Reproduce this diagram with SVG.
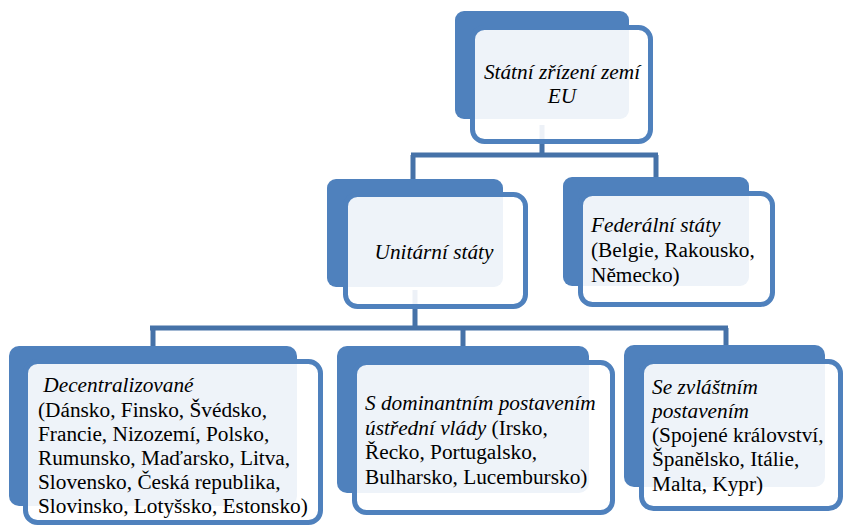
<svg xmlns="http://www.w3.org/2000/svg" width="845" height="526" viewBox="0 0 845 526">
<style>
.back{fill:#4F81BD;}
.front{fill:#FFFFFF;fill-opacity:0.9;stroke:#4F81BD;stroke-width:5;}
.conn{fill:none;stroke:#4672A8;stroke-width:5;}
text{font-family:"Liberation Serif","Times New Roman",serif;font-size:21.3px;fill:#000;}
.it{font-style:italic;}
</style>
<rect width="845" height="526" fill="#FFFFFF"/>
<g id="connectors">
<path class="conn" d="M542,125 V155 M411,155 H658 M413,155 V180 M656,155 V178"/>
<path class="conn" d="M415,290 V328 M150,328 H728 M153,328 V347 M463,328 V347 M726,328 V346"/>
</g>
<g id="node-root">
<rect class="back" x="455" y="11" width="174" height="108" rx="9"/>
<rect class="front" x="472.5" y="27.5" width="178" height="114" rx="12"/>
<text class="it" x="562" y="79" text-anchor="middle">Státní zřízení zemí</text>
<text class="it" x="562" y="103" text-anchor="middle">EU</text>
</g>
<g id="node-unitarni">
<rect class="back" x="327" y="179" width="176" height="108" rx="9"/>
<rect class="front" x="345.5" y="194.5" width="180" height="112" rx="12"/>
<text class="it" x="434" y="259" text-anchor="middle">Unitární státy</text>
</g>
<g id="node-federalni">
<rect class="back" x="563" y="177" width="186" height="109" rx="9"/>
<rect class="front" x="580.5" y="193.5" width="192" height="111" rx="12"/>
<text x="591" y="232"><tspan class="it">Federální státy</tspan></text>
<text x="591" y="257">(Belgie, Rakousko,</text>
<text x="591" y="282">Německo)</text>
</g>
<g id="node-decentralizovane">
<rect class="back" x="9" y="346" width="288" height="160" rx="10"/>
<rect class="front" x="25.5" y="361.5" width="295" height="161" rx="12"/>
<text class="it" x="38" y="392" xml:space="preserve"> Decentralizované</text>
<text x="38" y="417">(Dánsko, Finsko, Švédsko,</text>
<text x="38" y="441">Francie, Nizozemí, Polsko,</text>
<text x="38" y="465">Rumunsko, Maďarsko, Litva,</text>
<text x="38" y="489">Slovensko, Česká republika,</text>
<text x="38" y="513">Slovinsko, Lotyšsko, Estonsko)</text>
</g>
<g id="node-dominantni">
<rect class="back" x="337" y="346" width="252" height="147" rx="10"/>
<rect class="front" x="354.5" y="362.5" width="258" height="150" rx="12"/>
<text class="it" x="365" y="410">S dominantním postavením</text>
<text x="365" y="435"><tspan class="it">ústřední vlády</tspan> (Irsko,</text>
<text x="365" y="459">Řecko, Portugalsko,</text>
<text x="365" y="484">Bulharsko, Lucembursko)</text>
</g>
<g id="node-zvlastni">
<rect class="back" x="624" y="345" width="201" height="142" rx="10"/>
<rect class="front" x="641.5" y="361.5" width="199" height="147" rx="12"/>
<text class="it" x="652" y="394">Se zvláštním</text>
<text class="it" x="652" y="418">postavením</text>
<text x="652" y="442">(Spojené království,</text>
<text x="652" y="466">Španělsko, Itálie,</text>
<text x="652" y="491">Malta, Kypr)</text>
</g>
</svg>
